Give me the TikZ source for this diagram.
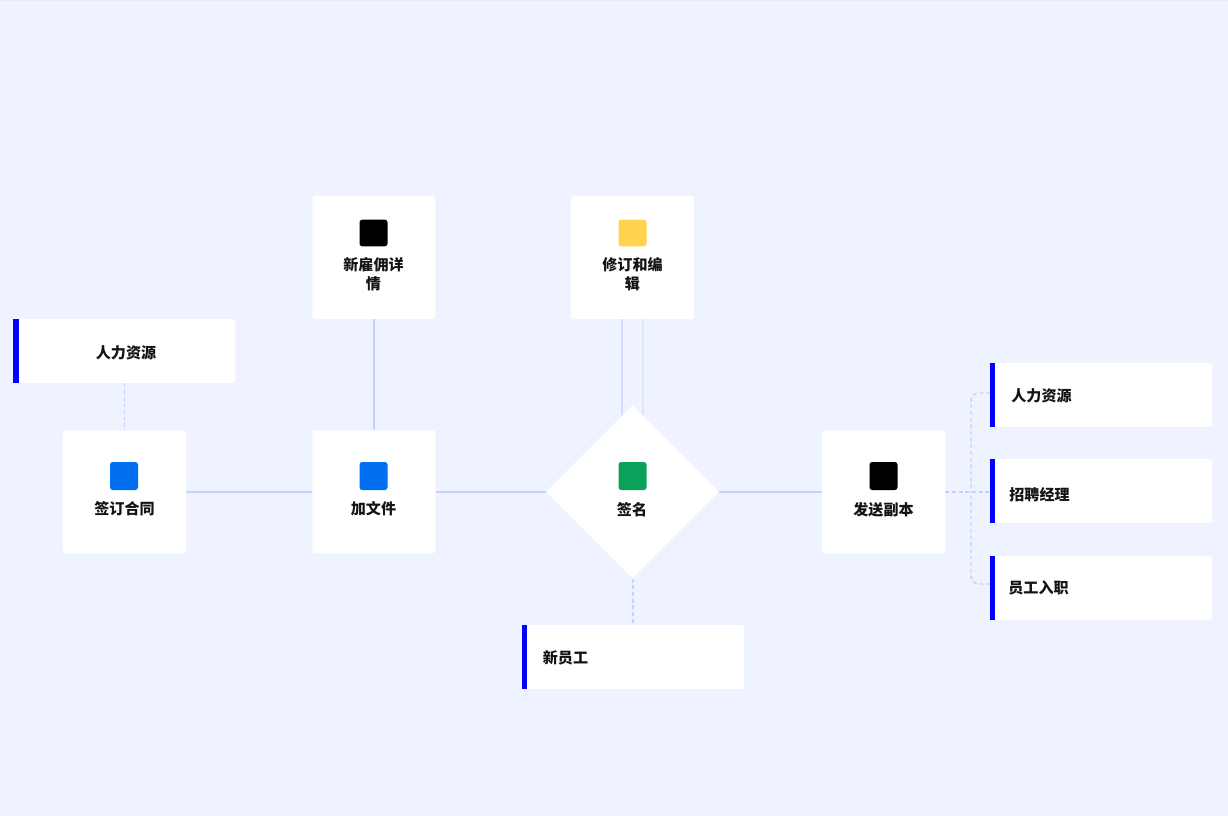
\documentclass[tikz,border=0pt]{standalone}
\usepackage{fontspec}
\newfontfamily\cjk{Noto Sans CJK SC}
\usetikzlibrary{shapes.geometric, backgrounds}

\definecolor{pagebg}{HTML}{EFF3FF}
\definecolor{topline}{HTML}{E8EBF8}
\definecolor{linkblue}{HTML}{C4D2FF}
\definecolor{linklight}{HTML}{D4DFFF}
\definecolor{linkpale}{HTML}{DFE7FF}
\definecolor{barblue}{HTML}{0000FF}
\definecolor{iconblue}{HTML}{006EF0}
\definecolor{icongreen}{HTML}{0BA15A}
\definecolor{iconyellow}{HTML}{FFD24F}
\definecolor{textdark}{HTML}{141414}

\begin{document}
\begin{tikzpicture}[
        x=0.75pt, y=-0.75pt,
        card/.style={rectangle, fill=white, rounded corners=2pt, inner sep=0pt, minimum size=92.25pt},
        signshape/.style={diamond, aspect=1, fill=white, inner sep=0pt, minimum size=129.75pt},
        notebox/.style={rectangle, fill=white, rounded corners=1.5pt, inner sep=0pt, minimum width=166.5pt, minimum height=48pt},
        notebar/.style={rectangle, fill=barblue, inner sep=0pt, minimum width=3.75pt, minimum height=48pt, anchor=west},
        icon/.style={rectangle, rounded corners=2pt, inner sep=0pt, minimum size=21pt},
        flaticon/.style={icon, minimum height=20pt},
        caption/.style={font=\fontsize{11.3}{14.25}\selectfont\cjk\bfseries, text=textdark, align=center, inner sep=0pt},
        solidlink/.style={draw=linkblue, line width=1.3pt},
        dashlink/.style={draw=linkblue, line width=1.1pt, dash pattern=on 3pt off 2pt}
    ]
        \useasboundingbox (0, 0) rectangle (1228, 816);

        % Main row of steps
        \node[card] (contract) at (124.5, 491.8) {};
        \node[card] (addfile) at (373.8, 491.8) {};
        \node[signshape] (sign) at (632.5, 491.8) {};
        \node[card] (copies) at (883.5, 491.8) {};

        % Cards above the row
        \node[card] (hiring) at (373.8, 257.5) {};
        \node[card] (revise) at (632.5, 257.5) {};

        % Icons
        \node[icon, fill=iconblue] (contracticon) at (124, 476) {};
        \node[icon, fill=iconblue] (addfileicon) at (373.5, 476) {};
        \node[icon, fill=icongreen] (signicon) at (632.5, 476) {};
        \node[icon, fill=black] (copiesicon) at (883.5, 476) {};
        \node[flaticon, fill=black] (hiringicon) at (373.5, 233) {};
        \node[flaticon, fill=iconyellow] (reviseicon) at (632.5, 233) {};

        % Step captions
        \node[caption] (contracttext) at (124.5, 509) {签订合同};
        \node[caption] (addfiletext) at (373.5, 509) {加文件};
        \node[caption] (signtext) at (632, 510) {签名};
        \node[caption] (copiestext) at (883.5, 509.5) {发送副本};
        \node[caption] (hiringtext) at (373.5, 274.5) {新雇佣详\\情};
        \node[caption] (revisetext) at (632.5, 274.5) {修订和编\\辑};

        % Note boxes with their bars
        \node[notebox] (hrleft) at (124, 351) {};
        \node[notebar, minimum width=4.5pt] (hrleftbar) at (hrleft.west) {};
        \node[caption] (hrlefttext) at (126, 352.5) {人力资源};

        \node[notebox] (newstaff) at (633, 657) {};
        \node[notebar] (newstaffbar) at (newstaff.west) {};
        \node[caption] (newstafftext) at (565.5, 657.5) {新员工};

        \node[notebox] (hrright) at (1101, 395) {};
        \node[notebar] (hrrightbar) at (hrright.west) {};
        \node[caption] (hrrighttext) at (1041.5, 396) {人力资源};

        \node[notebox] (manager) at (1101, 491) {};
        \node[notebar] (managerbar) at (manager.west) {};
        \node[caption] (managertext) at (1039.5, 495) {招聘经理};

        \node[notebox] (onboard) at (1101, 588) {};
        \node[notebar] (onboardbar) at (onboard.west) {};
        \node[caption] (onboardtext) at (1038.5, 588) {员工入职};

        % Fork beside the right hand notes
        \coordinate (fork) at (971, 491.8);
        \coordinate (hrend) at (990, 393);
        \coordinate (onboardend) at (990, 584);

        % Everything behind the boxes
        \begin{pgfonlayer}{background}
            \fill[pagebg] (0, 0) rectangle (1228, 816);
            \fill[topline] (0, 0) rectangle (1228, 1);

            \draw[solidlink] (contract) -- (addfile);
            \draw[solidlink] (addfile) -- (sign);
            \draw[solidlink] (sign) -- (copies);
            \draw[solidlink] (hiring) -- (addfile);
            \draw[solidlink, draw=linklight] ([xshift=-7.9pt]revise.south) -- ([xshift=-7.9pt]revise.south |- sign.center);
            \draw[solidlink, draw=linkpale] ([xshift=7.9pt]revise.south) -- ([xshift=7.9pt]revise.south |- sign.center);

            \draw[dashlink] (contract.north |- hrleft.south) -- (contract.north);
            \draw[dashlink] (newstaff.north |- sign.south) -- (newstaff.north);
            \draw[dashlink] (copies.east) -- (copies.east -| manager.west);
            \draw[dashlink, rounded corners=6pt] (hrend) -| (fork);
            \draw[dashlink, rounded corners=6pt] (onboardend) -| (fork);
        \end{pgfonlayer}

    \end{tikzpicture}
\end{document}
